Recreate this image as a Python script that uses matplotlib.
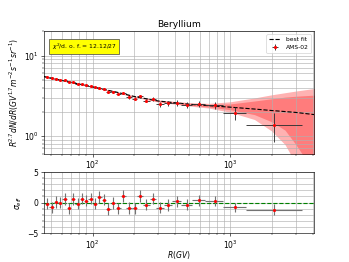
#Beryllium AMS-02 fit

#bibliotek
import numpy as np
import matplotlib.pyplot as plt
from matplotlib.ticker import MultipleLocator

#binkanter i rigiditet (GV)
R_lo = np.array([45.1, 48.5, 52.2, 56.1, 60.3, 64.8, 69.7, 74.9, 80.5, 86.5, 93.0, 100, 108, 116, 125, 135,
                 147, 160, 175, 192, 211, 233, 259, 291, 330, 379, 441, 525, 660, 880, 1300])
R_hi = np.array([48.5, 52.2, 56.1, 60.3, 64.8, 69.7, 74.9, 80.5, 86.5, 93.0, 100, 108, 116, 125, 135, 147,
                 160, 175, 192, 211, 233, 259, 291, 330, 379, 441, 525, 660, 880, 1300, 3300])
R_mid = np.array([46.8, 50.3, 54.1, 58.2, 62.5, 67.2, 72.3, 77.7, 83.5, 89.7, 96.5, 104, 112, 120.5, 130, 141,
                  153.5, 167.5, 183.5, 201.5, 222, 246, 275, 310, 354, 410, 483, 592, 770, 1080, 2080])
#R^2.7 * flux
flux = np.array([5.45, 5.21, 5.15, 4.98, 4.94, 4.66, 4.72, 4.45, 4.42, 4.27, 4.21, 4.06, 3.98, 3.84, 3.52, 3.55,
                 3.30, 3.45, 3.02, 2.90, 3.13, 2.75, 2.87, 2.50, 2.55, 2.58, 2.46, 2.53, 2.41, 1.95, 1.38])
flux_err = np.array([0.14, 0.13, 0.13, 0.13, 0.13, 0.12, 0.13, 0.12, 0.12, 0.12, 0.12, 0.12, 0.12, 0.12, 0.11, 0.12,
                     0.11, 0.12, 0.12, 0.12, 0.13, 0.14, 0.15, 0.18, 0.19, 0.20, 0.21, 0.22, 0.24, 0.35, 0.53])
#residualer
resid = np.array([-0.16, -0.77, 0.11, -0.05, 0.55, -0.93, 0.55, -0.16, 0.66, 0.33, 0.66, -0.16, 0.87, 0.49, -1.09, -0.05,
                  -0.93, 1.04, -0.93, -0.93, 1.06, -0.38, 0.66, -0.87, -0.44, 0.22, -0.33, 0.38, 0.27, -0.77, -1.15])
resid_err = np.array([0.9, 0.9, 0.95, 0.9, 0.95, 0.9, 0.95, 0.9, 0.95, 0.95, 0.95, 0.9, 0.95, 0.9, 0.95, 0.95,
                      0.9, 0.95, 0.95, 0.9, 0.95, 0.9, 0.95, 0.9, 0.95, 0.9, 0.9, 0.9, 0.85, 0.75, 0.9])
#bästa anpassning och osäkerhetsband (inre/yttre, nedre/övre kant)
R_fit = np.array([44, 70, 100, 150, 200, 300, 500, 700, 1000, 1500, 2000, 2500, 3000, 4100])
fit = np.array([5.5, 4.64, 4.07, 3.5, 3.1, 2.72, 2.48, 2.38, 2.28, 2.16, 2.07, 2.01, 1.96, 1.84])
in_lo = np.array([5.45, 4.60, 4.04, 3.47, 3.07, 2.68, 2.42, 2.29, 2.12, 1.84, 1.50, 1.18, 0.78, 0.35])
in_hi = np.array([5.55, 4.68, 4.10, 3.53, 3.13, 2.76, 2.54, 2.47, 2.50, 2.72, 2.90, 3.04, 3.12, 3.22])
out_lo = np.array([5.41, 4.57, 4.01, 3.44, 3.04, 2.64, 2.36, 2.22, 1.97, 1.60, 1.15, 0.78, 0.45, 0.12])
out_hi = np.array([5.59, 4.71, 4.13, 3.56, 3.16, 2.80, 2.60, 2.54, 2.66, 2.97, 3.25, 3.45, 3.62, 3.90])

dpi = 349/6.4
fig, (ax, ax2) = plt.subplots(2, 1, figsize=(6.4, 262/dpi), dpi=dpi,
                              gridspec_kw={'height_ratios': [2, 1], 'hspace': 0.2})

xerr = [R_mid-R_lo, R_hi-R_mid]

#övre panel
ax.fill_between(R_fit, out_lo, out_hi, color='red', alpha=0.3, lw=0)
ax.fill_between(R_fit, in_lo, in_hi, color='red', alpha=0.3, lw=0)
ax.plot(R_fit, fit, 'k--', label='best fit')
ax.errorbar(R_mid, flux, yerr=flux_err, xerr=xerr, fmt='o', color='red', ms=3,
            ecolor='0.2', elinewidth=1.2, label='AMS-02', zorder=3)
ax.set_xscale('log')
ax.set_yscale('log')
ax.set_xlim(44, 4070)
ax.set_ylim(0.6, 20)
ax.grid(which='both')
ax.set_title('Beryllium')
ax.set_ylabel(r'$R^{2.7}dN/dR(GV^{1.7}m^{-2}s^{-1}sr^{-1})$')
ax.legend(loc='upper right', fontsize=8)
ax.text(0.03, 0.86, r'$\chi^2$/d. o. f. = 12.12/27', transform=ax.transAxes, fontsize=8,
        bbox=dict(facecolor='yellow', edgecolor='0.3', pad=3))

#nedre panel
ax2.errorbar(R_mid, resid, yerr=resid_err, xerr=xerr, fmt='o', color='red', ms=3,
             ecolor='0.45', elinewidth=1.5, zorder=3)
ax2.axhline(0, color='green', ls='--', lw=1.5)
ax2.set_xscale('log')
ax2.set_xlim(44, 4070)
ax2.set_ylim(-5, 5)
ax2.set_yticks([-5, 0, 5])
ax2.yaxis.set_minor_locator(MultipleLocator(1))
ax2.grid(which='both')
ax2.set_ylabel(r'$\sigma_{eff}$')
ax2.set_xlabel(r'$R(GV)$', labelpad=-3)

fig.savefig('out.png', dpi=dpi)
